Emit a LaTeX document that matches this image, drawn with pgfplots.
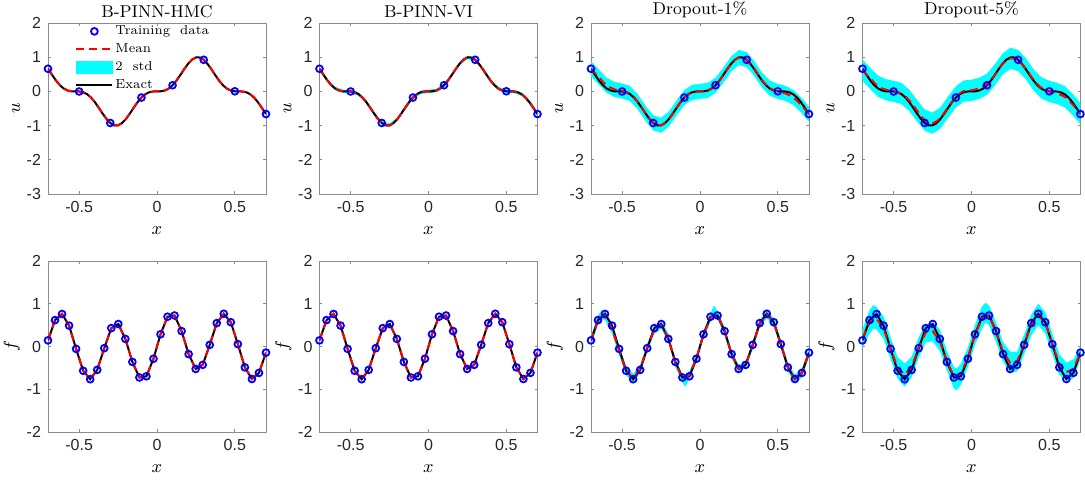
\documentclass[border=0pt]{standalone}
\usepackage{fontspec}
\usepackage{pgfplots}
\pgfplotsset{compat=1.18}
\usepackage{pgfplotstable}
\usepgfplotslibrary{groupplots,fillbetween}
\newfontfamily\arial{Liberation Sans}
\definecolor{mcyan}{rgb}{0,1,1}
\definecolor{mblue}{rgb}{0,0,1}
\definecolor{mred}{rgb}{1,0,0}

\pgfplotstableread{
x u
-0.700 0.6621
-0.675 0.4902
-0.650 0.3254
-0.625 0.1868
-0.600 0.0867
-0.575 0.0280
-0.550 0.0039
-0.525 0.0000
-0.500 -0.0028
-0.475 -0.0238
-0.450 -0.0781
-0.425 -0.1735
-0.400 -0.3082
-0.375 -0.4711
-0.350 -0.6432
-0.325 -0.8018
-0.300 -0.9236
-0.275 -0.9908
-0.250 -0.9925
-0.225 -0.9289
-0.200 -0.8096
-0.175 -0.6526
-0.150 -0.4806
-0.125 -0.3167
-0.100 -0.1800
-0.075 -0.0823
-0.050 -0.0258
-0.025 -0.0033
0.000 0.0000
0.025 0.0033
0.050 0.0258
0.075 0.0823
0.100 0.1800
0.125 0.3167
0.150 0.4806
0.175 0.6526
0.200 0.8096
0.225 0.9289
0.250 0.9925
0.275 0.9908
0.300 0.9236
0.325 0.8018
0.350 0.6432
0.375 0.4711
0.400 0.3082
0.425 0.1735
0.450 0.0781
0.475 0.0238
0.500 0.0028
0.525 0.0000
0.550 -0.0039
0.575 -0.0280
0.600 -0.0867
0.625 -0.1868
0.650 -0.3254
0.675 -0.4902
0.700 -0.6621
}\uexact

\pgfplotstableread{
x u
-0.7 0.6621
-0.5 -0.0028
-0.3 -0.9236
-0.1 -0.1800
0.1 0.1800
0.3 0.9236
0.5 0.0028
0.7 -0.6621
}\utrain

\pgfplotstableread{
x vlo vhi m1 l1 h1 m5 l5 h5
-0.70 0.612 0.712 0.66 0.44 0.88 0.62 0.31 0.93
-0.65 0.275 0.375 0.42 0.20 0.64 0.38 0.07 0.69
-0.60 0.037 0.137 0.18 -0.04 0.40 0.15 -0.16 0.46
-0.55 -0.046 0.054 0.06 -0.16 0.28 0.05 -0.26 0.36
-0.50 -0.053 0.047 0.01 -0.21 0.23 0.00 -0.31 0.31
-0.45 -0.128 -0.028 -0.06 -0.28 0.16 -0.06 -0.37 0.25
-0.40 -0.358 -0.258 -0.30 -0.52 -0.08 -0.26 -0.57 0.05
-0.35 -0.693 -0.593 -0.64 -0.86 -0.42 -0.56 -0.87 -0.25
-0.30 -0.974 -0.874 -0.92 -1.14 -0.70 -0.84 -1.15 -0.53
-0.25 -1.043 -0.943 -0.99 -1.21 -0.77 -0.93 -1.24 -0.62
-0.20 -0.860 -0.760 -0.81 -1.03 -0.59 -0.78 -1.09 -0.47
-0.15 -0.531 -0.431 -0.48 -0.70 -0.26 -0.46 -0.77 -0.15
-0.10 -0.230 -0.130 -0.18 -0.40 0.04 -0.16 -0.47 0.15
-0.05 -0.076 0.024 -0.03 -0.25 0.19 0.01 -0.30 0.32
0.00 -0.050 0.050 0.00 -0.22 0.22 0.03 -0.28 0.34
0.05 -0.024 0.076 0.03 -0.19 0.25 0.09 -0.22 0.40
0.10 0.130 0.230 0.18 -0.04 0.40 0.21 -0.10 0.52
0.15 0.431 0.531 0.47 0.25 0.69 0.48 0.17 0.79
0.20 0.760 0.860 0.80 0.58 1.02 0.80 0.49 1.11
0.25 0.943 1.043 0.99 0.77 1.21 0.97 0.66 1.28
0.30 0.874 0.974 0.93 0.71 1.15 0.90 0.59 1.21
0.35 0.593 0.693 0.66 0.44 0.88 0.66 0.35 0.97
0.40 0.258 0.358 0.32 0.10 0.54 0.33 0.02 0.64
0.45 0.028 0.128 0.09 -0.13 0.31 0.10 -0.21 0.41
0.50 -0.047 0.053 0.00 -0.22 0.22 0.00 -0.31 0.31
0.55 -0.054 0.046 -0.06 -0.28 0.16 -0.06 -0.37 0.25
0.60 -0.137 -0.037 -0.18 -0.40 0.04 -0.16 -0.47 0.15
0.65 -0.375 -0.275 -0.40 -0.62 -0.18 -0.38 -0.69 -0.07
0.70 -0.712 -0.612 -0.66 -0.88 -0.44 -0.65 -0.96 -0.34
}\udrop

\pgfplotstableread{
x f m1 m5
-0.7000 0.1432 0.13 0.20
-0.6548 0.6170 0.62 0.55
-0.6097 0.7604 0.73 0.65
-0.5645 0.4885 0.41 0.42
-0.5194 -0.0550 -0.09 -0.05
-0.4742 -0.5676 -0.57 -0.50
-0.4290 -0.7657 -0.74 -0.66
-0.3839 -0.5470 -0.52 -0.48
-0.3387 -0.0390 -0.03 -0.02
-0.2935 0.4296 0.39 0.33
-0.2484 0.5254 0.50 0.36
-0.2032 0.1781 0.20 0.12
-0.1581 -0.3604 -0.38 -0.33
-0.1129 -0.7250 -0.74 -0.70
-0.0677 -0.6969 -0.67 -0.64
-0.0226 -0.2855 -0.27 -0.25
0.0226 0.2855 0.27 0.27
0.0677 0.6969 0.68 0.66
0.1129 0.7250 0.73 0.72
0.1581 0.3604 0.36 0.33
0.2032 -0.1781 -0.18 -0.12
0.2484 -0.5254 -0.52 -0.38
0.2935 -0.4296 -0.42 -0.34
0.3387 0.0390 0.03 0.05
0.3839 0.5470 0.53 0.50
0.4290 0.7657 0.75 0.72
0.4742 0.5676 0.56 0.55
0.5194 0.0550 0.06 0.06
0.5645 -0.4885 -0.48 -0.42
0.6097 -0.7604 -0.76 -0.60
0.6548 -0.6170 -0.62 -0.52
0.7000 -0.1432 -0.15 -0.15
}\ftab

\pgfplotstableread{
x lo hi
-0.7000 0.02 0.26
-0.6548 0.52 0.72
-0.6300 0.64 0.86
-0.6097 0.62 0.84
-0.5645 0.30 0.52
-0.5194 -0.20 0.02
-0.4742 -0.68 -0.46
-0.4290 -0.84 -0.64
-0.3839 -0.62 -0.42
-0.3387 -0.12 0.06
-0.2935 0.30 0.48
-0.2484 0.42 0.58
-0.2032 0.10 0.30
-0.1581 -0.48 -0.28
-0.1129 -0.84 -0.64
-0.0940 -0.94 -0.66
-0.0677 -0.76 -0.58
-0.0226 -0.36 -0.18
0.0226 0.18 0.36
0.0677 0.58 0.78
0.0900 0.66 0.96
0.1129 0.64 0.82
0.1581 0.26 0.46
0.2032 -0.28 -0.08
0.2484 -0.60 -0.44
0.2935 -0.50 -0.34
0.3387 -0.06 0.12
0.3839 0.44 0.62
0.4290 0.66 0.84
0.4742 0.46 0.66
0.5194 -0.04 0.16
0.5645 -0.58 -0.38
0.6097 -0.86 -0.66
0.6548 -0.72 -0.52
0.7000 -0.26 -0.04
}\fbandA

\pgfplotstableread{
x lo hi
-0.7000 -0.02 0.40
-0.6548 0.30 0.85
-0.6300 0.42 0.97
-0.6097 0.40 0.92
-0.5645 0.18 0.70
-0.5194 -0.30 0.22
-0.4742 -0.75 -0.25
-0.4290 -0.94 -0.40
-0.3839 -0.72 -0.24
-0.3387 -0.26 0.22
-0.2935 0.10 0.52
-0.2484 0.12 0.56
-0.2032 -0.10 0.40
-0.1581 -0.55 -0.10
-0.1129 -0.98 -0.48
-0.0950 -1.02 -0.52
-0.0677 -0.90 -0.40
-0.0226 -0.48 -0.02
0.0226 0.04 0.50
0.0677 0.42 0.94
0.0900 0.56 1.02
0.1129 0.50 0.96
0.1581 0.10 0.56
0.2032 -0.35 0.10
0.2484 -0.62 -0.12
0.2935 -0.58 -0.12
0.3387 -0.18 0.28
0.3839 0.26 0.74
0.4290 0.50 1.00
0.4742 0.30 0.80
0.5194 -0.18 0.30
0.5645 -0.66 -0.18
0.6097 -0.80 -0.38
0.6548 -0.74 -0.30
0.7000 -0.30 0.00
}\fbandB

\pgfplotsset{
  exact/.style={black, line width=1pt, forget plot},
  mean/.style={mred, line width=1pt, dash pattern=on 4pt off 2.5pt, forget plot},
  train/.style={only marks, mark=o, mark size=1.7pt, mblue, mark options={line width=0.9pt, solid}, forget plot},
  hid/.style={draw=none, forget plot},
  band/.style={fill=mcyan, draw=none, forget plot},
  urow/.style={ymin=-3, ymax=2, ytick={-3,-2,-1,0,1,2}, ylabel={$u$}},
  frow/.style={ymin=-2, ymax=2, ytick={-2,-1,0,1,2}, ylabel={$f$}},
}

\begin{document}
\begin{tikzpicture}
\begin{groupplot}[
  group style={group size=4 by 2, horizontal sep=26.75pt, vertical sep=33.5pt},
  scale only axis, width=109pt, height=85.5pt,
  xmin=-0.7, xmax=0.7, xtick={-0.5,0,0.5},
  axis line style={black!45}, tick style={black!45, line width=0.4pt},
  major tick length=1.3pt, tick align=inside,
  /pgf/number format/assume math mode=true,
  ticklabel style={font=\fontsize{8}{9}\selectfont\arial, text=black!85},
  title style={font=\fontsize{8.6}{10}\selectfont, yshift=-7pt},
  label style={font=\fontsize{8.6}{10}\selectfont},
  xlabel={$x$}, xlabel shift=0.5pt, ylabel shift=-3.5pt,
]
% ---------- row 1 ----------
\nextgroupplot[urow, title={B-PINN-HMC},
  legend style={at={(0,1)}, anchor=north west, xshift=13.5pt, yshift=0.25pt,
    draw=none, fill=none, inner sep=0pt, font=\fontsize{6.5}{8}\selectfont,
    row sep=0.5pt, nodes={inner sep=1pt, text height=5pt, text depth=1.5pt}},
  legend cell align=left,
  legend image code/.code={\draw[mark repeat=2,mark phase=2,#1] plot coordinates {(0pt,0pt) (9pt,0pt) (18pt,0pt)};}]
\addlegendimage{only marks, mark=o, mark size=1.7pt, mblue, mark options={line width=0.9pt}}
\addlegendentry{Training~~data}
\addlegendimage{mred, line width=1pt, dash pattern=on 4pt off 2.5pt}
\addlegendentry{Mean}
\addlegendimage{legend image code/.code={\fill[mcyan] (0pt,-3pt) rectangle (18pt,3pt);}}
\addlegendentry{2~~std}
\addlegendimage{black, line width=1pt}
\addlegendentry{Exact}
\addplot[exact] table[x=x,y=u]{\uexact};
\addplot[mean] table[x=x,y=u]{\uexact};
\addplot[train] table[x=x,y=u]{\utrain};

\nextgroupplot[urow, title={B-PINN-VI}]
\addplot[hid, name path=A] table[x=x,y=vhi]{\udrop};
\addplot[hid, name path=B] table[x=x,y=vlo]{\udrop};
\addplot[band] fill between[of=A and B];
\addplot[exact] table[x=x,y=u]{\uexact};
\addplot[mean] table[x=x,y=u]{\uexact};
\addplot[train] table[x=x,y=u]{\utrain};

\nextgroupplot[urow, title={Dropout-1\%}]
\addplot[hid, name path=A] table[x=x,y=h1]{\udrop};
\addplot[hid, name path=B] table[x=x,y=l1]{\udrop};
\addplot[band] fill between[of=A and B];
\addplot[exact] table[x=x,y=u]{\uexact};
\addplot[mean, smooth] table[x=x,y=m1]{\udrop};
\addplot[train] table[x=x,y=u]{\utrain};

\nextgroupplot[urow, title={Dropout-5\%}]
\addplot[hid, name path=A] table[x=x,y=h5]{\udrop};
\addplot[hid, name path=B] table[x=x,y=l5]{\udrop};
\addplot[band] fill between[of=A and B];
\addplot[exact] table[x=x,y=u]{\uexact};
\addplot[mean, smooth] table[x=x,y=m5]{\udrop};
\addplot[train] table[x=x,y=u]{\utrain};

% ---------- row 2 ----------
\nextgroupplot[frow]
\addplot[exact] table[x=x,y=f]{\ftab};
\addplot[mean] table[x=x,y=f]{\ftab};
\addplot[train] table[x=x,y=f]{\ftab};

\nextgroupplot[frow]
\addplot[exact] table[x=x,y=f]{\ftab};
\addplot[mean] table[x=x,y=f]{\ftab};
\addplot[train] table[x=x,y=f]{\ftab};

\nextgroupplot[frow]
\addplot[hid, name path=A] table[x=x,y=hi]{\fbandA};
\addplot[hid, name path=B] table[x=x,y=lo]{\fbandA};
\addplot[band] fill between[of=A and B];
\addplot[exact] table[x=x,y=f]{\ftab};
\addplot[mean] table[x=x,y=m1]{\ftab};
\addplot[train] table[x=x,y=f]{\ftab};

\nextgroupplot[frow]
\addplot[hid, name path=A] table[x=x,y=hi]{\fbandB};
\addplot[hid, name path=B] table[x=x,y=lo]{\fbandB};
\addplot[band] fill between[of=A and B];
\addplot[exact] table[x=x,y=f]{\ftab};
\addplot[mean] table[x=x,y=m5]{\ftab};
\addplot[train] table[x=x,y=f]{\ftab};
\end{groupplot}
\pgfresetboundingbox
\path (group c1r1.north west) ++(-24pt,11.5pt) rectangle ++(542.5pt,-242.5pt);
\end{tikzpicture}
\end{document}
